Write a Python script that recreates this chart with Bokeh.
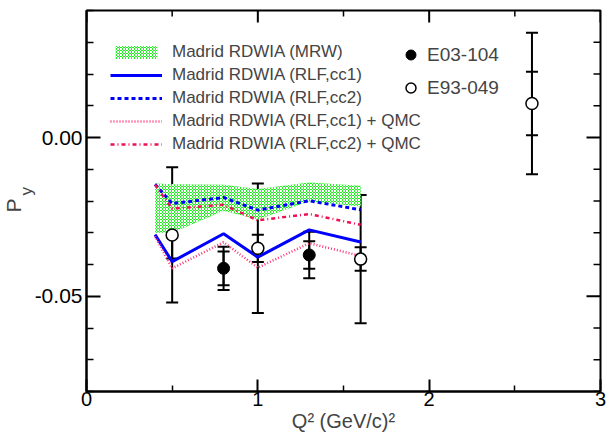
import numpy as np
from bokeh.plotting import figure
from bokeh.models import (ColumnDataSource, Whisker, TeeHead, Legend, LegendItem,
                          FixedTicker, PrintfTickFormatter, Title, Range1d)
from bokeh.embed import file_html
from bokeh.resources import INLINE

# ---- theory curves ----
q2_th = [0.4, 0.5, 0.8, 1.0, 1.3, 1.6]
mrw_hi = [-0.0145, -0.0147, -0.0149, -0.0162, -0.0142, -0.0152]
mrw_lo = [-0.0300, -0.0300, -0.0231, -0.0258, -0.0201, -0.0217]
rlf_cc1 = [-0.0306, -0.0391, -0.0303, -0.0377, -0.0291, -0.0329]
rlf_cc2 = [-0.0147, -0.0208, -0.0189, -0.0229, -0.0199, -0.0228]
qmc_cc1 = [-0.0311, -0.0412, -0.0330, -0.0410, -0.0333, -0.0373]
qmc_cc2 = [-0.0149, -0.0224, -0.0212, -0.0261, -0.0241, -0.0275]

# ---- data ----
e03_q2 = [0.8, 1.3]
e03_py = [-0.0412, -0.0370]
e03_err_in = [0.0053, 0.0043]
e03_err_out = [0.0068, 0.0073]

e93_q2 = [0.5, 1.0, 1.6, 2.6]
e93_py = [-0.0307, -0.0349, -0.0383, 0.0107]
e93_err_in = [0.0074, 0.0043, 0.0037, 0.0100]
e93_err_out = [0.0213, 0.0204, 0.0202, 0.0223]

x_ticks = [0, 1, 2, 3]
x_minor = [0.5, 1.5, 2.5]
y_ticks = [-0.05, 0.0]
y_minor = [-0.08, -0.07, -0.06, -0.04, -0.03, -0.02, -0.01, 0.01, 0.02, 0.03, 0.04]

X0, X1 = 0, 3
Y0, Y1 = -0.08, 0.04
FONT = "Liberation Sans"

W, H = 606, 437
ML, MR, MT, MB = 86, 6, 10, 46
p = figure(width=W, height=H, x_range=Range1d(X0, X1), y_range=Range1d(Y0, Y1),
           output_backend="svg", toolbar_location=None,
           min_border_left=ML, min_border_right=MR, min_border_top=MT, min_border_bottom=MB)
p.xgrid.visible = False
p.ygrid.visible = False
p.outline_line_color = "black"
p.outline_line_width = 2
p.background_fill_color = "white"

# pixel -> data conversion for tick lengths on the top/right frame edges
fw, fh = W - ML - MR, H - MT - MB
dx_px = (X1 - X0) / fw
dy_px = (Y1 - Y0) / fh


def style_axis(ax, major_in, minor_in, size):
    ax.axis_line_width = 2
    ax.axis_line_color = "black"
    ax.major_tick_in = major_in
    ax.major_tick_out = 0
    ax.minor_tick_in = minor_in
    ax.minor_tick_out = 0
    ax.major_tick_line_width = 2
    ax.minor_tick_line_width = 1.5
    ax.major_tick_line_color = "black"
    ax.minor_tick_line_color = "black"
    ax.major_label_text_font = FONT
    ax.major_label_text_font_size = size
    ax.major_label_text_color = "black"


p.xaxis.ticker = FixedTicker(ticks=x_ticks, minor_ticks=x_minor)
p.yaxis.ticker = FixedTicker(ticks=y_ticks, minor_ticks=y_minor)
p.yaxis.formatter = PrintfTickFormatter(format="%.2f")
style_axis(p.xaxis[0], 12, 6, "20px")
style_axis(p.yaxis[0], 14, 7, "21px")
p.xaxis.major_label_standoff = 0
p.yaxis.major_label_standoff = 4
p.xaxis.axis_label = "Q\u00b2 (GeV/c)\u00b2"
p.xaxis.axis_label_text_font = FONT
p.xaxis.axis_label_text_font_size = "20px"
p.xaxis.axis_label_text_font_style = "normal"
p.xaxis.axis_label_standoff = 1

# ticks on top and right frame edges
p.segment(x0=x_ticks, y0=[Y1] * len(x_ticks), x1=x_ticks, y1=[Y1 - 12 * dy_px] * len(x_ticks),
          line_color="black", line_width=2)
p.segment(x0=x_minor, y0=[Y1] * len(x_minor), x1=x_minor, y1=[Y1 - 6 * dy_px] * len(x_minor),
          line_color="black", line_width=1.5)
p.segment(x0=[X1] * len(y_ticks), y0=y_ticks, x1=[X1 - 14 * dx_px] * len(y_ticks), y1=y_ticks,
          line_color="black", line_width=2)
p.segment(x0=[X1] * len(y_minor), y0=y_minor, x1=[X1 - 7 * dx_px] * len(y_minor), y1=y_minor,
          line_color="black", line_width=1.5)

# ---- band ----
band = p.varea(x=q2_th, y1=mrw_lo, y2=mrw_hi, fill_color="#22f022",
               hatch_pattern="x", hatch_color="white", hatch_scale=3, hatch_weight=1,
               hatch_alpha=1.0)

r1 = p.line(q2_th, rlf_cc1, line_color="#0000ff", line_width=3)
r2 = p.line(q2_th, rlf_cc2, line_color="#0000ff", line_width=3, line_dash="4 3")
r3 = p.line(q2_th, qmc_cc1, line_color="#ff3377", line_width=2.5, line_dash="1 2")
r4 = p.line(q2_th, qmc_cc2, line_color="#ee1155", line_width=2.5, line_dash="4 3 1 3")


# ---- error bars ----
def add_errors(xs, ys, errs):
    src = ColumnDataSource(dict(x=xs, lo=[y - e for y, e in zip(ys, errs)],
                                hi=[y + e for y, e in zip(ys, errs)]))
    w = Whisker(source=src, base="x", lower="lo", upper="hi", line_width=2, line_color="black",
                upper_head=TeeHead(size=12, line_width=2, line_color="black"),
                lower_head=TeeHead(size=12, line_width=2, line_color="black"))
    p.add_layout(w)


add_errors(e93_q2, e93_py, e93_err_out)
add_errors(e93_q2, e93_py, e93_err_in)
add_errors(e03_q2, e03_py, e03_err_out)
add_errors(e03_q2, e03_py, e03_err_in)

s1 = p.scatter(e03_q2, e03_py, size=12, fill_color="black", line_color="black", level="overlay")
s2 = p.scatter(e93_q2, e93_py, size=12, fill_color="white", line_color="black", line_width=1.5,
               level="overlay")

leg1 = Legend(items=[LegendItem(label="Madrid RDWIA (MRW)", renderers=[band]),
                     LegendItem(label="Madrid RDWIA (RLF,cc1)", renderers=[r1]),
                     LegendItem(label="Madrid RDWIA (RLF,cc2)", renderers=[r2]),
                     LegendItem(label="Madrid RDWIA (RLF,cc1) + QMC", renderers=[r3]),
                     LegendItem(label="Madrid RDWIA (RLF,cc2) + QMC", renderers=[r4])],
              location=(24, 237), glyph_width=52, glyph_height=16, label_height=20,
              spacing=3, label_standoff=10, padding=0, margin=0,
              border_line_color=None, background_fill_alpha=0,
              label_text_font=FONT, label_text_font_size="17px")
p.add_layout(leg1)

leg2 = Legend(items=[LegendItem(label="E03-104", renderers=[s1]),
                     LegendItem(label="E93-049", renderers=[s2])],
              location=(312, 291), glyph_width=25, glyph_height=25, label_height=25,
              spacing=8, label_standoff=4, padding=0, margin=0,
              border_line_color=None, background_fill_alpha=0,
              label_text_font=FONT, label_text_font_size="19px")
p.add_layout(leg2)

# ---- y-axis label P_y (two side titles: subscript next to axis, P outside) ----
t_sub = Title(text="y", align="left", vertical_align="bottom", offset=196, standoff=-8,
              text_font=FONT, text_font_size="17px", text_font_style="normal")
p.add_layout(t_sub, "left")
t_P = Title(text="P", align="left", vertical_align="bottom", offset=179, standoff=-13,
            text_font=FONT, text_font_size="21px", text_font_style="normal")
p.add_layout(t_P, "left")

open("out.html", "w").write(file_html(p, INLINE))
